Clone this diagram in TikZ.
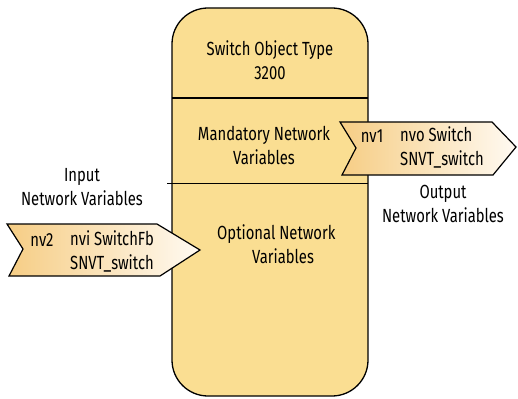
\documentclass[tikz,border=0pt]{standalone}
\usepackage{fontspec}
\setmainfont{Fira Sans}[FakeStretch=0.78]
\definecolor{boxfill}{HTML}{FADE92}
\definecolor{penleft}{HTML}{F6CD84}
\definecolor{penright}{HTML}{FFFAF2}
\begin{document}
\begin{tikzpicture}[x=1pt,y=-1pt,
  txt/.style={inner sep=0pt,font=\fontsize{19}{24}\selectfont,text=black},
  outline/.style={draw=black,line width=1.3pt},
  pennant/.style={draw=black,line width=1.2pt,left color=penleft,right color=penright}]
\useasboundingbox (0,0) rectangle (518,398);
\clip (0,0) rectangle (518,398);
% main object box
\draw[outline,fill=boxfill,rounded corners=36pt] (172,8) rectangle (368,396);
\draw[line width=1.3pt] (172,98) -- (368,98);
\draw[line width=1.3pt] (167,183.5) -- (368,183.5);
\node[txt,align=center] (title) at (270,60) {Switch Object Type\\3200};
\node[txt,align=center] (mand) at (264,145) {Mandatory Network\\Variables};
\node[txt,align=left,anchor=west] (opt) at (217,244) {Optional Network\\\hspace*{35pt}Variables};
% output pennant
\draw[pennant] (340,122) -- (492,122) -- (516,147) -- (493,175) -- (342,175) -- (356,148) -- cycle;
\node[txt] (nv1) at (372,136) {nv1};
\node[txt,align=left,anchor=west] (nvo) at (400,147.5) {nvo Switch\\SNVT\_switch};
\node[txt,align=center] (outlbl) at (443,204) {Output\\Network Variables};
% input pennant
\draw[pennant] (7,224) -- (157,224) -- (200,250) -- (160,276) -- (9,276) -- (23,249) -- cycle;
\node[txt] (nv2) at (42,240) {nv2};
\node[txt,align=left,anchor=west] (nvi) at (70,251) {nvi SwitchFb\\SNVT\_switch};
\node[txt,align=center] (inlbl) at (82,187) {Input\\Network Variables};
\end{tikzpicture}
\end{document}
